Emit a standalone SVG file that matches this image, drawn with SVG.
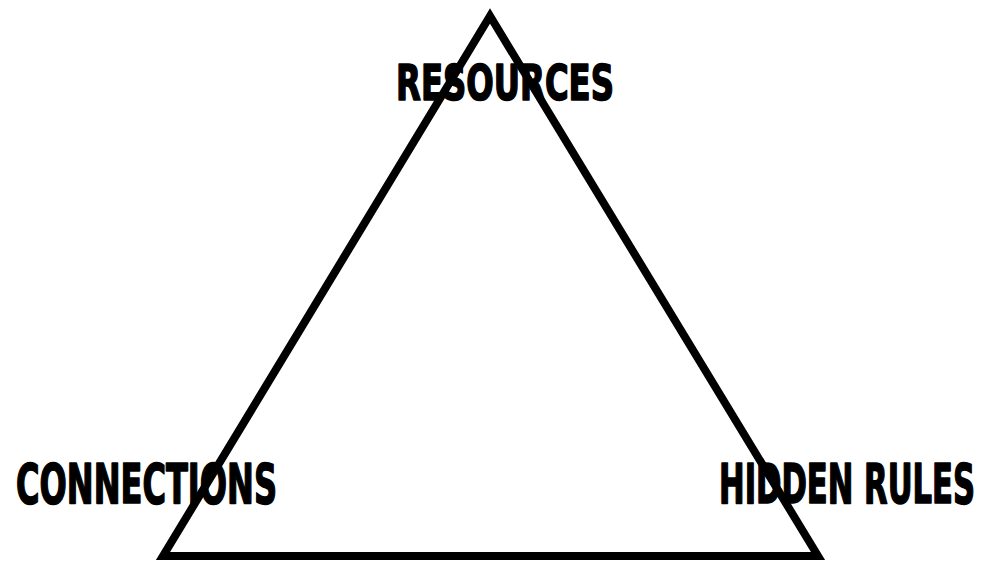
<svg xmlns="http://www.w3.org/2000/svg" width="982" height="563" viewBox="0 0 982 563">
<style>
.lbl{font-family:"DejaVu Sans Condensed","DejaVu Sans","Liberation Sans",sans-serif;font-weight:bold;fill:#000;stroke:#000;stroke-width:1.6;stroke-linejoin:round;}
</style>
<rect width="982" height="563" fill="#fff"/>
<g id="connectors">
<polygon points="490,16 163,556 818,556" fill="none" stroke="#000" stroke-width="8" stroke-linejoin="miter" stroke-miterlimit="10"/>
</g>
<g id="node-resources"><text class="lbl" x="396" y="100" font-size="49" textLength="218" lengthAdjust="spacingAndGlyphs">RESOURCES</text></g>
<g id="node-connections"><text class="lbl" x="16" y="502.5" font-size="55" textLength="261" lengthAdjust="spacingAndGlyphs">CONNECTIONS</text></g>
<g id="node-hidden-rules"><text class="lbl" x="719" y="502.5" font-size="55" textLength="256" lengthAdjust="spacingAndGlyphs">HIDDEN RULES</text></g>
</svg>
